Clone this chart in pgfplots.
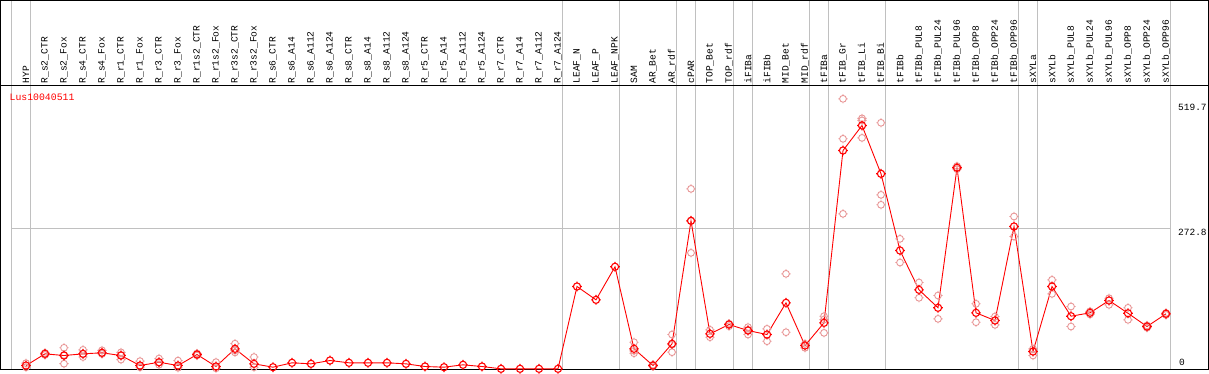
\documentclass[border=0pt]{standalone}
\usepackage{fontspec}
\usepackage{pgfplots}
\pgfplotsset{compat=1.18}
\newfontfamily\mono{Liberation Mono}
\definecolor{gridgray}{RGB}{192,192,192}
\definecolor{reppink}{RGB}{232,150,150}
\pgfdeclareplotmark{cc}{%
  \pgfpathcircle{\pgfpointorigin}{\pgfplotmarksize}%
  \pgfpathmoveto{\pgfpoint{0pt}{1.0\pgfplotmarksize}}\pgfpathlineto{\pgfpoint{0pt}{1.35\pgfplotmarksize}}%
  \pgfpathmoveto{\pgfpoint{0pt}{-1.0\pgfplotmarksize}}\pgfpathlineto{\pgfpoint{0pt}{-1.35\pgfplotmarksize}}%
  \pgfpathmoveto{\pgfpoint{1.0\pgfplotmarksize}{0pt}}\pgfpathlineto{\pgfpoint{1.35\pgfplotmarksize}{0pt}}%
  \pgfpathmoveto{\pgfpoint{-1.0\pgfplotmarksize}{0pt}}\pgfpathlineto{\pgfpoint{-1.35\pgfplotmarksize}{0pt}}%
  \pgfusepathqstroke}
\begin{document}
\begin{tikzpicture}
\begin{axis}[
  scale only axis, width=1207pt, height=283.5pt,
  xmin=-1.31579, xmax=62.2105, ymin=-0.39, ymax=552.05,
  axis line style={draw=none}, ytick=\empty,
  xtick={0,...,60},
  xticklabels={HYP,R\_s2\_CTR,R\_s2\_Fox,R\_s4\_CTR,R\_s4\_Fox,R\_r1\_CTR,R\_r1\_Fox,R\_r3\_CTR,R\_r3\_Fox,R\_r1s2\_CTR,R\_r1s2\_Fox,R\_r3s2\_CTR,R\_r3s2\_Fox,R\_s6\_CTR,R\_s6\_A14,R\_s6\_A112,R\_s6\_A124,R\_s8\_CTR,R\_s8\_A14,R\_s8\_A112,R\_s8\_A124,R\_r5\_CTR,R\_r5\_A14,R\_r5\_A112,R\_r5\_A124,R\_r7\_CTR,R\_r7\_A14,R\_r7\_A112,R\_r7\_A124,LEAF\_N,LEAF\_P,LEAF\_NPK,SAM,AR\_Bet,AR\_rdf,cPAR,TOP\_Bet,TOP\_rdf,iFIBa,iFIBb,MID\_Bet,MID\_rdf,tFIBa,tFIB\_Gr,tFIB\_Li,tFIB\_Bi,tFIBb,tFIBb\_PUL8,tFIBb\_PUL24,tFIBb\_PUL96,tFIBb\_OPP8,tFIBb\_OPP24,tFIBb\_OPP96,sXYLa,sXYLb,sXYLb\_PUL8,sXYLb\_PUL24,sXYLb\_PUL96,sXYLb\_OPP8,sXYLb\_OPP24,sXYLb\_OPP96},
  xticklabel pos=upper,
  major tick length=0pt,
  xticklabel style={rotate=90, anchor=west, font=\mono\fontsize{9.6}{10}\selectfont, inner sep=2pt},
  clip=false]
% bounding box
\path (axis cs:-1.3684,-3.31) rectangle (axis cs:62.263,717.66);
% grid
\pgfplotsinvokeforeach{-0.76,0.24,28.24,31.23,34.24,35.24,37.23,38.23,41.23,42.23,45.24,52.23,53.23,60.24}{
  \draw[gridgray, line width=1pt] (axis cs:#1,-0.39) -- (axis cs:#1,717.66);
}
\draw[gridgray, line width=1pt] (axis cs:-0.76,272.8) -- (axis cs:60.24,272.8);
% frame
\draw[black, line width=1pt] (axis cs:-1.3158,-0.39) rectangle (axis cs:62.2105,716.7);
\draw[black, line width=1pt] (axis cs:-1.3158,552.05) -- (axis cs:62.2105,552.05);
% labels
\node[anchor=west, inner sep=0pt, text=red, font=\mono\fontsize{9.8}{10}\selectfont] at (axis cs:-0.868,528.7) {Lus10040511};
\node[anchor=west, inner sep=0pt, font=\mono\fontsize{9.5}{10}\selectfont] at (axis cs:60.63,509.2) {519.7};
\node[anchor=west, inner sep=0pt, font=\mono\fontsize{9.5}{10}\selectfont] at (axis cs:60.63,265) {272.8};
\node[anchor=west, inner sep=0pt, font=\mono\fontsize{9.5}{10}\selectfont] at (axis cs:60.68,12.9) {0};
% replicates
\addplot[only marks, mark=cc, mark size=3.4pt, reppink, mark options={line width=0.9pt}] table {
x y
0 11
0 3
1 31
1 27
2 41
2 10
2 27
3 37
3 23
3 29
4 36
4 29
4 31
5 32
5 18
5 27
6 15
6 3
7 20
7 8
7 12
8 16
8 2
9 30
9 26
10 13
10 1
11 49
11 32
11 36
12 23
12 3
32 51.8
32 30.4
32 35
33 8
33 5
34 66.8
34 32.4
34 47
35 350.7
35 226
35 288
36 76
36 61.6
37 88
37 83
38 81.1
38 66.8
38 76
39 77.9
39 53.8
40 185.1
40 71.3
41 48.7
41 40.9
42 102.5
42 70.1
42 96
43 526.1
43 448.2
43 302
44 488
44 484
44 450
45 479.4
45 339
45 319.6
46 253.3
46 207.1
47 168.2
47 138.4
48 142.8
48 97.4
49 395
49 389
50 126.7
50 90.8
51 101.9
51 85.7
52 296.8
52 257.8
53 39
53 25.9
54 173.4
54 146.1
55 121.4
55 82.4
56 112
56 106
57 137.6
57 124.7
58 118.9
58 95.5
59 84.5
59 80
60 109
60 105
};
% means
\addplot[red, line width=0.9pt, mark=cc, mark size=3.6pt, mark options={line width=1.1pt}] table {
x y
0 6.4
1 29.2
2 25.9
3 29.2
4 31.2
5 25.9
6 6.4
7 12.9
8 6.4
9 27.9
10 4.5
11 39
12 9.7
13 3.2
14 11.7
15 9.7
16 16.2
17 11.7
18 11.7
19 11.7
20 9.7
21 4.5
22 3.2
23 7.8
24 4.5
25 0
26 0
27 0
28 0
29 160.4
30 134.4
31 198.8
32 39
33 6.4
34 48.7
35 288.4
36 68.2
37 86.3
38 74.6
39 66.8
40 128.6
41 45.4
42 89.6
43 425.4
44 474.1
45 380
46 230.5
47 153.9
48 118.9
49 391.7
50 109.1
51 94.1
52 277.3
53 33.7
54 160.4
55 102.5
56 109.1
57 133.1
58 108.3
59 82.4
60 107.2
};
\end{axis}
\end{tikzpicture}
\end{document}
